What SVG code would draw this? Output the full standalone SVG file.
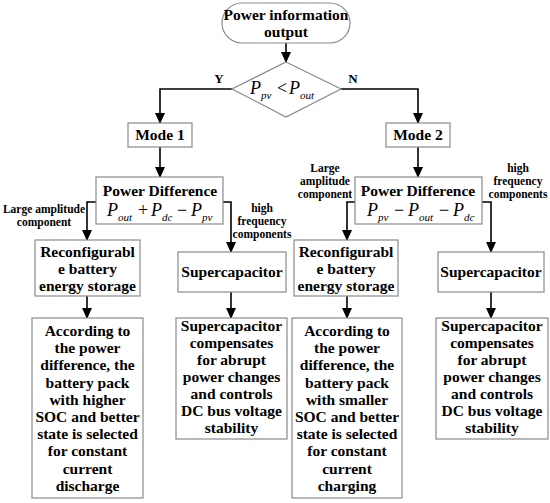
<svg xmlns="http://www.w3.org/2000/svg" width="550" height="503" viewBox="0 0 550 503" font-family="Liberation Serif, DejaVu Serif, serif">
<defs>
<style>
.box{fill:#fff;stroke:#8a8a8a;stroke-width:1.2}
.t{font-weight:bold;font-size:15.5px;fill:#000;text-anchor:middle}
.s{font-weight:bold;font-size:11.5px;fill:#000;text-anchor:middle}
.yn{font-weight:bold;font-size:13px;fill:#000;text-anchor:middle}
.f{font-size:18px;fill:#000}
.i{font-style:italic}
.sub{font-style:italic;font-size:11px}
.c{fill:none;stroke:#000;stroke-width:1.6}
</style>
<marker id="ah" markerUnits="userSpaceOnUse" markerWidth="12" markerHeight="12" refX="10" refY="5" orient="auto">
<path d="M0,0 L11,5 L0,10 Z" fill="#000"/>
</marker>
</defs>
<rect width="550" height="503" fill="#fff"/>

<g id="connectors">
<line class="c" x1="286" y1="43" x2="286" y2="62" marker-end="url(#ah)"/>
<polyline class="c" points="232,89 160,89 160,123" marker-end="url(#ah)"/>
<polyline class="c" points="341,89 418,89 418,123" marker-end="url(#ah)"/>
<line class="c" x1="160" y1="147" x2="160" y2="177" marker-end="url(#ah)"/>
<line class="c" x1="418" y1="147" x2="418" y2="177" marker-end="url(#ah)"/>
<polyline class="c" points="96,202 87,202 87,240" marker-end="url(#ah)"/>
<polyline class="c" points="223,202 231,202 231,252" marker-end="url(#ah)"/>
<polyline class="c" points="355,202 347,202 347,240" marker-end="url(#ah)"/>
<polyline class="c" points="482,202 491,202 491,252" marker-end="url(#ah)"/>
<line class="c" x1="87" y1="296" x2="87" y2="318" marker-end="url(#ah)"/>
<line class="c" x1="231" y1="292" x2="231" y2="318" marker-end="url(#ah)"/>
<line class="c" x1="347" y1="296" x2="347" y2="318" marker-end="url(#ah)"/>
<line class="c" x1="491" y1="292" x2="491" y2="318" marker-end="url(#ah)"/>
<text class="yn" x="219" y="83">Y</text>
<text class="yn" x="353" y="83">N</text>
<text class="s" x="44" y="213">Large amplitude</text>
<text class="s" x="44" y="226">component</text>
<text class="s" x="262" y="212">high</text>
<text class="s" x="262" y="225">frequency</text>
<text class="s" x="262" y="238">components</text>
<text class="s" x="325" y="172">Large</text>
<text class="s" x="325" y="185">amplitude</text>
<text class="s" x="325" y="198">component</text>
<text class="s" x="518" y="172">high</text>
<text class="s" x="518" y="185">frequency</text>
<text class="s" x="518" y="198">components</text>
</g>

<g id="start">
<rect class="box" x="222" y="3" width="128" height="40" rx="20"/>
<text class="t" x="286" y="20">Power information</text>
<text class="t" x="286" y="37">output</text>
</g>

<g id="decision">
<polygon class="box" points="286,62 341,89 286,117 232,89"/>
<text class="f"><tspan class="i" x="250" y="94">P</tspan><tspan class="sub" x="261" y="99">pv</tspan><tspan x="277" y="94">&lt;</tspan><tspan class="i" x="289" y="94">P</tspan><tspan class="sub" x="300" y="99">out</tspan></text>
</g>

<g id="mode1">
<rect class="box" x="128" y="123" width="64" height="24"/>
<text class="t" x="160" y="140">Mode 1</text>
</g>
<g id="mode2">
<rect class="box" x="386" y="123" width="64" height="24"/>
<text class="t" x="418" y="140">Mode 2</text>
</g>

<g id="pd1">
<rect class="box" x="96" y="177" width="127" height="47"/>
<text class="t" x="160" y="196">Power Difference</text>
<text class="f"><tspan class="i" x="107" y="216">P</tspan><tspan class="sub" x="118" y="221">out</tspan><tspan x="138" y="216">+</tspan><tspan class="i" x="151" y="216">P</tspan><tspan class="sub" x="162" y="221">dc</tspan><tspan x="177" y="216">−</tspan><tspan class="i" x="191" y="216">P</tspan><tspan class="sub" x="202" y="221">pv</tspan></text>
</g>

<g id="pd2">
<rect class="box" x="355" y="177" width="127" height="47"/>
<text class="t" x="418" y="196">Power Difference</text>
<text class="f"><tspan class="i" x="367" y="216">P</tspan><tspan class="sub" x="378" y="221">pv</tspan><tspan x="394" y="216">−</tspan><tspan class="i" x="408" y="216">P</tspan><tspan class="sub" x="419" y="221">out</tspan><tspan x="439" y="216">−</tspan><tspan class="i" x="453" y="216">P</tspan><tspan class="sub" x="464" y="221">dc</tspan></text>
</g>

<g id="battery1">
<rect class="box" x="35" y="240" width="105" height="56"/>
<text class="t" x="87.5" y="257">Reconfigurabl</text>
<text class="t" x="87.5" y="274">e battery</text>
<text class="t" x="87.5" y="291">energy storage</text>
</g>
<g id="supercap1">
<rect class="box" x="178" y="252" width="108" height="40"/>
<text class="t" x="232" y="277">Supercapacitor</text>
</g>
<g id="battery2">
<rect class="box" x="294" y="240" width="104" height="56"/>
<text class="t" x="346" y="257">Reconfigurabl</text>
<text class="t" x="346" y="274">e battery</text>
<text class="t" x="346" y="291">energy storage</text>
</g>
<g id="supercap2">
<rect class="box" x="438" y="252" width="106" height="40"/>
<text class="t" x="491" y="277">Supercapacitor</text>
</g>

<g id="desc1">
<rect class="box" x="32" y="318" width="111" height="180"/>
<text class="t" x="87.5" y="336">According to</text>
<text class="t" x="87.5" y="353">the power</text>
<text class="t" x="87.5" y="370">difference, the</text>
<text class="t" x="87.5" y="388">battery pack</text>
<text class="t" x="87.5" y="405">with higher</text>
<text class="t" x="87.5" y="422">SOC and better</text>
<text class="t" x="87.5" y="439">state is selected</text>
<text class="t" x="87.5" y="456">for constant</text>
<text class="t" x="87.5" y="474">current</text>
<text class="t" x="87.5" y="491">discharge</text>
</g>
<g id="desc2">
<rect class="box" x="176" y="318" width="111" height="121"/>
<text class="t" x="231.5" y="331">Supercapacitor</text>
<text class="t" x="231.5" y="348">compensates</text>
<text class="t" x="231.5" y="365">for abrupt</text>
<text class="t" x="231.5" y="382">power changes</text>
<text class="t" x="231.5" y="399">and controls</text>
<text class="t" x="231.5" y="416">DC bus voltage</text>
<text class="t" x="231.5" y="433">stability</text>
</g>
<g id="desc3">
<rect class="box" x="292" y="318" width="110" height="180"/>
<text class="t" x="347" y="336">According to</text>
<text class="t" x="347" y="353">the power</text>
<text class="t" x="347" y="370">difference, the</text>
<text class="t" x="347" y="388">battery pack</text>
<text class="t" x="347" y="405">with smaller</text>
<text class="t" x="347" y="422">SOC and better</text>
<text class="t" x="347" y="439">state is selected</text>
<text class="t" x="347" y="456">for constant</text>
<text class="t" x="347" y="474">current</text>
<text class="t" x="347" y="491">charging</text>
</g>
<g id="desc4">
<rect class="box" x="436" y="318" width="112" height="121"/>
<text class="t" x="492" y="331">Supercapacitor</text>
<text class="t" x="492" y="348">compensates</text>
<text class="t" x="492" y="365">for abrupt</text>
<text class="t" x="492" y="382">power changes</text>
<text class="t" x="492" y="399">and controls</text>
<text class="t" x="492" y="416">DC bus voltage</text>
<text class="t" x="492" y="433">stability</text>
</g>
</svg>
